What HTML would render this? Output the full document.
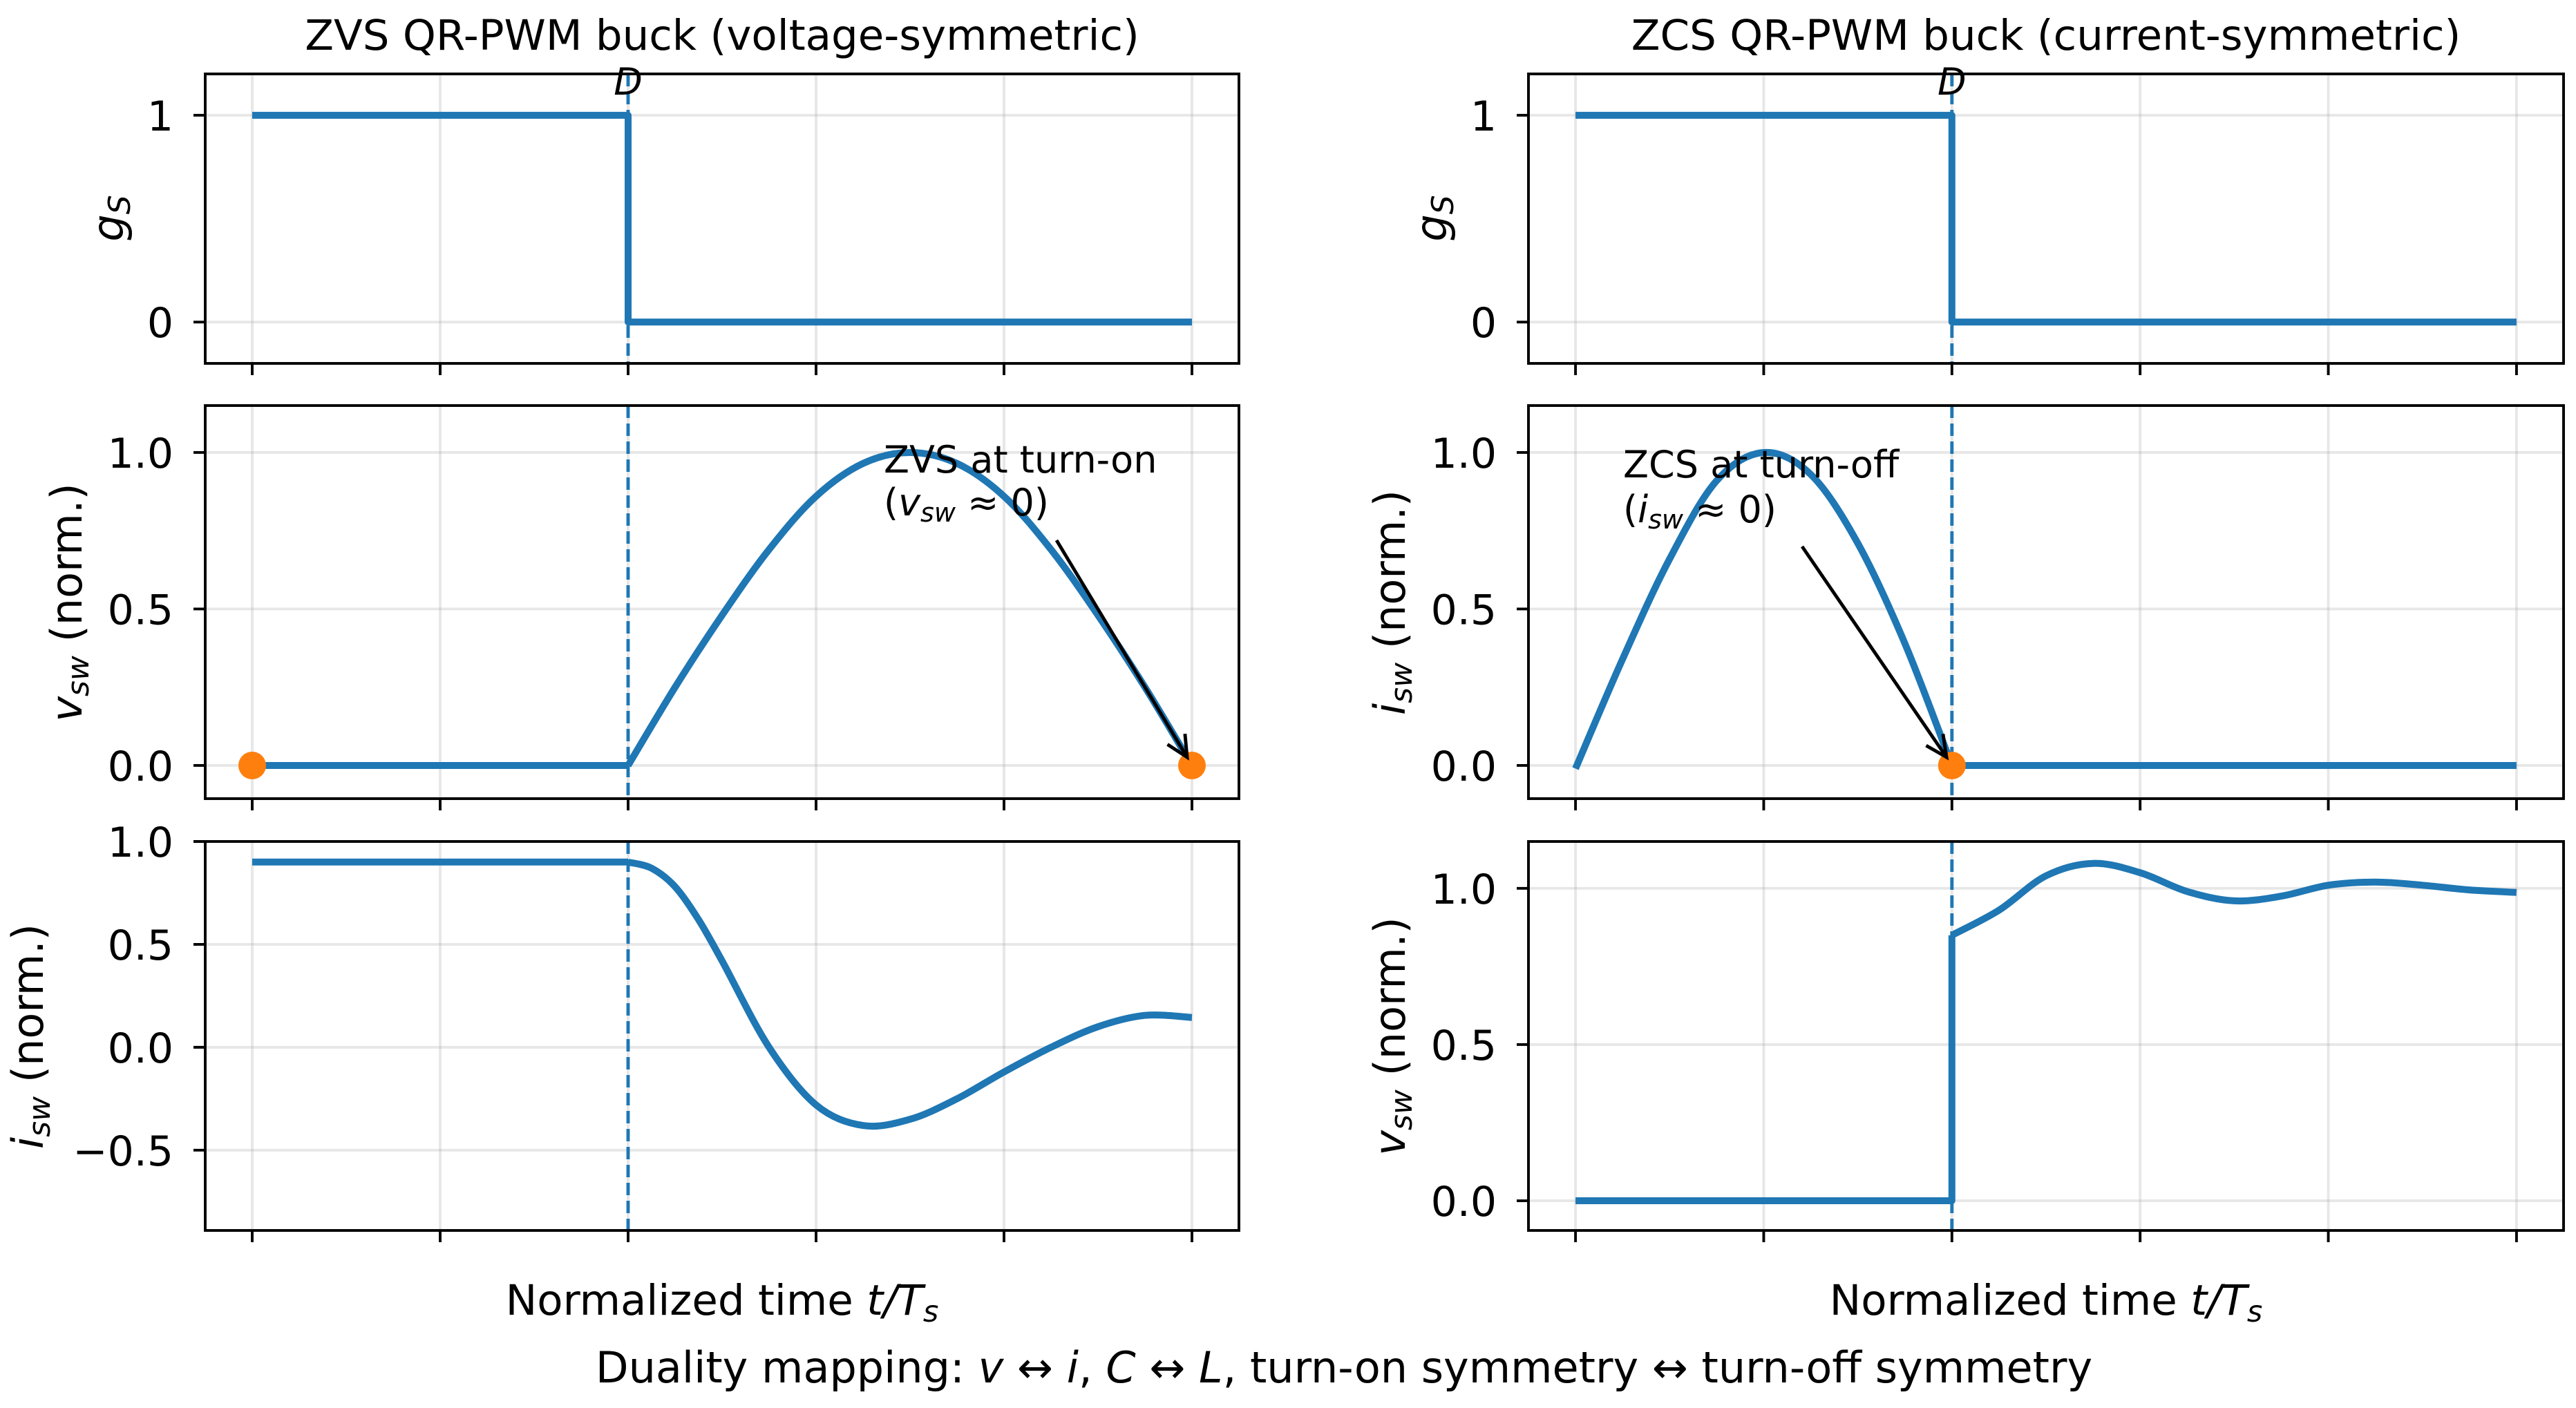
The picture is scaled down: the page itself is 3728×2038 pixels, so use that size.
<!DOCTYPE html>
<html><head><meta charset="utf-8"><style>
html,body{margin:0;padding:0;background:#fff}
svg{display:block}
text{font-family:"DejaVu Sans","Liberation Sans",sans-serif;fill:#000}
</style></head><body>
<svg id="fig" width="3728" height="2038" viewBox="0 0 3728 2038" xmlns="http://www.w3.org/2000/svg"></svg>
<script>
// ---- data ----
const xTicks = [0, 0.2, 0.4, 0.6, 0.8, 1.0];
const dutyD = 0.4;
const gateT = [0, 0.4, 0.4, 1.0];
const gateV = [1, 1, 0, 0];
// Left (ZVS)
const zvsVswFlatT = [0, 0.4];
const zvsVswFlatV = [0, 0];
const zvsVswT = [0.4, 0.45, 0.5, 0.55, 0.6, 0.65, 0.7, 0.75, 0.8, 0.85, 0.9, 0.95, 1.0];
const zvsVswV = [0, 0.25, 0.48, 0.69, 0.86, 0.965, 1.0, 0.965, 0.86, 0.69, 0.48, 0.25, 0];
const zvsIswFlatT = [0, 0.4];
const zvsIswFlatV = [0.9, 0.9];
const zvsIswT = [0.4, 0.425, 0.45, 0.475, 0.5, 0.55, 0.6, 0.65, 0.7, 0.75, 0.8, 0.85, 0.9, 0.95, 1.0];
const zvsIswV = [0.9, 0.87, 0.78, 0.62, 0.42, 0.0, -0.28, -0.38, -0.35, -0.25, -0.12, 0.0, 0.10, 0.155, 0.145];
const zvsDotsT = [0, 1.0];
const zvsDotsV = [0, 0];
// Right (ZCS)
const zcsIswT = [0, 0.05, 0.1, 0.15, 0.2, 0.25, 0.3, 0.35, 0.4];
const zcsIswV = [-0.01, 0.34, 0.66, 0.91, 1.0, 0.93, 0.71, 0.39, 0];
const zcsIswFlatT = [0.4, 1.0];
const zcsIswFlatV = [0, 0];
const zcsVswFlatT = [0, 0.4, 0.4];
const zcsVswFlatV = [0, 0, 0.85];
const zcsVswT = [0.4, 0.45, 0.5, 0.55, 0.6, 0.65, 0.7, 0.75, 0.8, 0.85, 0.9, 0.95, 1.0];
const zcsVswV = [0.85, 0.93, 1.04, 1.08, 1.05, 0.99, 0.96, 0.975, 1.01, 1.02, 1.01, 0.995, 0.987];
const zcsDotsT = [0.4];
const zcsDotsV = [0];

const NS = "http://www.w3.org/2000/svg";
const svg = document.getElementById('fig');
function mk(tag, attrs, parent){ const e=document.createElementNS(NS,tag); for(const k in attrs) e.setAttribute(k,attrs[k]); (parent||svg).appendChild(e); return e; }

const BLUE="#1f77b4", ORANGE="#ff7f0e";
const cols = [{x0:297,x1:1793},{x0:2212,x1:3710}];
const rows = [{y0:107,y1:526},{y0:587,y1:1156},{y0:1218,y1:1781}];
const XL=[-0.05,1.05];
const TF=60;

function makeAxes(ci, ri, ylim, yticks, ylabs, name){
  const c=cols[ci], r=rows[ri];
  const g=mk('g',{});
  
  
  const sx=v=>c.x0+(v-XL[0])/(XL[1]-XL[0])*(c.x1-c.x0);
  const sy=v=>r.y1-(v-ylim[0])/(ylim[1]-ylim[0])*(r.y1-r.y0);
  xTicks.forEach(t=>{ const l=mk('line',{x1:sx(t),x2:sx(t),y1:r.y0,y2:r.y1,stroke:'#b0b0b0','stroke-opacity':0.3,'stroke-width':3.9},g);
      });
  yticks.forEach((t,i)=>{ const l=mk('line',{x1:c.x0,x2:c.x1,y1:sy(t),y2:sy(t),stroke:'#b0b0b0','stroke-opacity':0.3,'stroke-width':3.9},g);
     
    const tk=mk('line',{x1:c.x0-17,x2:c.x0,y1:sy(t),y2:sy(t),stroke:'#000','stroke-width':3.9},g);
     
    const tx=mk('text',{x:c.x0-46,y:sy(t)+22,'text-anchor':'end','font-size':TF},g);
    tx.textContent=ylabs[i];
     
  });
  xTicks.forEach(t=>{ const tk=mk('line',{x1:sx(t),x2:sx(t),y1:r.y1,y2:r.y1+17,stroke:'#000','stroke-width':3.9},g);
      });
  return {g,sx,sy,c,r};
}
function frame(ax){
  const f=mk('rect',{x:ax.c.x0,y:ax.r.y0,width:ax.c.x1-ax.c.x0,height:ax.r.y1-ax.r.y0,fill:'none',stroke:'#000','stroke-width':3.9},ax.g);
   
}
function vline(ax){
  const l=mk('line',{x1:ax.sx(dutyD),x2:ax.sx(dutyD),y1:ax.r.y0,y2:ax.r.y1,stroke:BLUE,'stroke-width':4.9,'stroke-dasharray':'18 8'},ax.g);
   
}
function poly(ax,T,V,name){
  const d=T.map((t,i)=>(i?'L':'M')+ax.sx(t).toFixed(1)+','+ax.sy(V[i]).toFixed(1)).join('');
  const p=mk('path',{d,fill:'none',stroke:BLUE,'stroke-width':10,'stroke-linejoin':'round'},ax.g);
   
}
function smooth(ax,T,V,name){
  const P=T.map((t,i)=>[ax.sx(t),ax.sy(V[i])]);
  let d='M'+P[0][0].toFixed(1)+','+P[0][1].toFixed(1);
  for(let i=0;i<P.length-1;i++){
    const p0=P[i-1]||P[i], p1=P[i], p2=P[i+1], p3=P[i+2]||P[i+1];
    const c1=[p1[0]+(p2[0]-p0[0])/6, p1[1]+(p2[1]-p0[1])/6];
    const c2=[p2[0]-(p3[0]-p1[0])/6, p2[1]-(p3[1]-p1[1])/6];
    d+='C'+c1.map(v=>v.toFixed(1)).join(',')+' '+c2.map(v=>v.toFixed(1)).join(',')+' '+p2[0].toFixed(1)+','+p2[1].toFixed(1);
  }
  const p=mk('path',{d,fill:'none',stroke:BLUE,'stroke-width':10,'stroke-linecap':'butt'},ax.g);
   
}
function dots(ax,T,V){
  T.forEach((t,i)=>{ const c=mk('circle',{cx:ax.sx(t),cy:ax.sy(V[i]),r:20,fill:ORANGE},ax.g);
      });
}
function dLabel(ax){
  const t=mk('text',{x:ax.sx(dutyD),y:ax.r.y0+30,'text-anchor':'middle','font-size':54,'font-style':'italic'},ax.g);
  t.textContent='D';
   
}
function ylabel(x,yc,main,sub,rest,name){
  const t=mk('text',{x:0,y:0,'text-anchor':'middle','font-size':62,transform:`translate(${x},${yc}) rotate(-90)`});
   
  const a=mk('tspan',{'font-style':'italic'},t); a.textContent=main;
  const b=mk('tspan',{'font-style':'italic','font-size':44,dy:10},t); b.textContent=sub;
  if(rest){ const c=mk('tspan',{dy:-10},t); c.textContent=rest; }
}
function arrow(x1,y1,x2,y2,name){
  const g=mk('g',{});
   
  mk('line',{x1,y1,x2,y2,stroke:'#000','stroke-width':4.9},g);
  const ang=Math.atan2(y2-y1,x2-x1), L=34, w=0.45;
  const p=(a)=>[x2-L*Math.cos(ang+a), y2-L*Math.sin(ang+a)];
  const A=p(w),B=p(-w);
  mk('path',{d:`M${A[0]},${A[1]}L${x2},${y2}L${B[0]},${B[1]}`,fill:'none',stroke:'#000','stroke-width':4.9},g);
}

// ---- Left column ----
let ax=makeAxes(0,0,[-0.2,1.2],[0,1],['0','1'],'zvs-gate-panel');
vline(ax); poly(ax,gateT,gateV,'zvs-gate-signal'); frame(ax); dLabel(ax);
ax=makeAxes(0,1,[-0.106,1.15],[0,0.5,1.0],['0.0','0.5','1.0'],'zvs-vsw-panel');
vline(ax); poly(ax,zvsVswFlatT,zvsVswFlatV,'zvs-vsw-flat'); smooth(ax,zvsVswT,zvsVswV,'zvs-vsw-curve'); dots(ax,zvsDotsT,zvsDotsV); frame(ax);
ax=makeAxes(0,2,[-0.89,1.0],[-0.5,0,0.5,1.0],['\u22120.5','0.0','0.5','1.0'],'zvs-isw-panel');
vline(ax); poly(ax,zvsIswFlatT,zvsIswFlatV,'zvs-isw-flat'); smooth(ax,zvsIswT,zvsIswV,'zvs-isw-curve'); frame(ax);

// ---- Right column ----
ax=makeAxes(1,0,[-0.2,1.2],[0,1],['0','1'],'zcs-gate-panel');
vline(ax); poly(ax,gateT,gateV,'zcs-gate-signal'); frame(ax); dLabel(ax);
ax=makeAxes(1,1,[-0.106,1.15],[0,0.5,1.0],['0.0','0.5','1.0'],'zcs-isw-panel');
vline(ax); smooth(ax,zcsIswT,zcsIswV,'zcs-isw-curve'); poly(ax,zcsIswFlatT,zcsIswFlatV,'zcs-isw-flat'); dots(ax,zcsDotsT,zcsDotsV); frame(ax);
ax=makeAxes(1,2,[-0.095,1.15],[0,0.5,1.0],['0.0','0.5','1.0'],'zcs-vsw-panel');
vline(ax); poly(ax,zcsVswFlatT,zcsVswFlatV,'zcs-vsw-flat'); smooth(ax,zcsVswT,zcsVswV,'zcs-vsw-curve'); frame(ax);

// ---- labels ----
ylabel(178,316,'g','S','', 'zvs-gate-ylabel');
ylabel(2093,316,'g','S','', 'zcs-gate-ylabel');
ylabel(118,872,'v','sw',' (norm.)','zvs-vsw-ylabel');
ylabel(62,1500,'i','sw',' (norm.)','zvs-isw-ylabel');
ylabel(2033,872,'i','sw',' (norm.)','zcs-isw-ylabel');
ylabel(2033,1500,'v','sw',' (norm.)','zcs-vsw-ylabel');

function txt(x,y,s,size,anchor,name){ const t=mk('text',{x,y,'font-size':size,'text-anchor':anchor||'middle'}); t.textContent=s;
    return t; }
txt(1045,72,'ZVS QR-PWM buck (voltage-symmetric)',61,'middle','zvs-title');
txt(2961,72,'ZCS QR-PWM buck (current-symmetric)',61,'middle','zcs-title');

function xlabel(cx,name){
  const t=mk('text',{x:cx,y:1903,'font-size':61,'text-anchor':'middle'});
   
  const a=mk('tspan',{},t); a.textContent='Normalized time ';
  const b=mk('tspan',{'font-style':'italic'},t); b.textContent='t/T';
  const c=mk('tspan',{'font-style':'italic','font-size':43,dy:10},t); c.textContent='s';
}
xlabel(1045,'zvs-x-axis-label'); xlabel(2961,'zcs-x-axis-label');

(function(){
  const t=mk('text',{x:1945,y:2001,'font-size':62,'text-anchor':'middle'});
   
  const parts=[['Duality mapping: ',''],['v','i'],[' \u2194 ',''],['i','i'],[',  ',''],['C','i'],[' \u2194 ',''],['L','i'],[',  turn-on symmetry \u2194 turn-off symmetry','']];
  parts.forEach(p=>{ const s=mk('tspan',p[1]?{'font-style':'italic'}:{},t); s.textContent=p[0]; });
})();

// annotations
(function(){
  txt(1279,684,'ZVS at turn-on',54,'start','zvs-annotation-line1');
  let t=mk('text',{x:1279,y:746,'font-size':54});
   
  mk('tspan',{},t).textContent='(';
  mk('tspan',{'font-style':'italic'},t).textContent='v';
  mk('tspan',{'font-style':'italic','font-size':38,dy:9},t).textContent='sw';
  mk('tspan',{dy:-9},t).textContent=' \u2248 0)';
  arrow(1529,782,1718,1096,'zvs-annotation-arrow');

  txt(2349,691,'ZCS at turn-off',54,'start','zcs-annotation-line1');
  t=mk('text',{x:2349,y:756,'font-size':54});
   
  mk('tspan',{},t).textContent='(';
  mk('tspan',{'font-style':'italic'},t).textContent='i';
  mk('tspan',{'font-style':'italic','font-size':38,dy:9},t).textContent='sw';
  mk('tspan',{dy:-9},t).textContent=' \u2248 0)';
  arrow(2608,791,2817,1096,'zcs-annotation-arrow');
})();
</script>
</body></html>
